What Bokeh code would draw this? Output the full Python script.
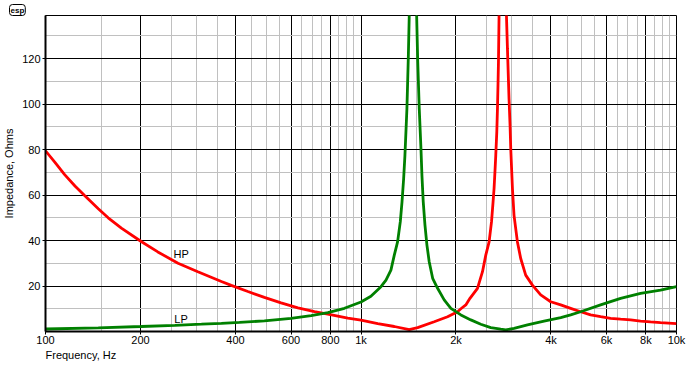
from bokeh.plotting import figure
from bokeh.models import FixedTicker, Range1d, Title
from bokeh.embed import file_html
from bokeh.resources import INLINE
from bokeh.core.properties import value

# HP (red) impedance curve, Hz / Ohms
hp_freq = [100, 107, 115, 124, 133, 147, 158, 174, 201, 227, 263, 304, 361, 388,
           438, 494, 558, 631, 712, 785, 908, 1000, 1130, 1275, 1422, 1512, 1706,
           1881, 2023, 2073, 2149, 2215, 2340, 2427, 2486, 2547, 2592, 2622, 2641,
           2661, 2674, 2694, 2707, 2719, 2727, 2739, 2815, 2891, 2912, 2946, 2968,
           2983, 3020, 3055, 3132, 3208, 3327, 3494, 3712, 3993, 4296, 4619, 4968,
           5343, 5747, 6182, 6650, 7152, 7693, 8275, 8900, 10000]
hp_ohms = [79.5, 74.5, 69.0, 64.0, 59.8, 54.0, 50.0, 45.5, 39.6, 35.0, 30.0, 26.3,
           22.0, 20.3, 17.6, 15.0, 12.6, 10.4, 8.7, 7.6, 5.9, 5.0, 3.5, 2.2, 0.8,
           1.7, 4.3, 6.5, 8.7, 10.0, 11.7, 14.6, 19.0, 26.3, 33.6, 39.4, 48.2, 57.0,
           62.9, 71.6, 77.5, 87.7, 97.9, 109.6, 118.4, 138.9, 600, 138.9, 124.3,
           102.3, 90.6, 80.4, 62.9, 51.1, 39.4, 32.1, 24.8, 20.4, 16.1, 13.1, 11.7,
           10.2, 8.7, 7.3, 6.5, 5.8, 5.4, 5.1, 4.6, 4.2, 3.9, 3.5]

# LP (green) impedance curve, Hz / Ohms
lp_freq = [100, 147, 201, 257, 312, 361, 412, 494, 600, 695, 785, 886, 1000, 1075,
           1157, 1200, 1244, 1275, 1306, 1332, 1349, 1365, 1378, 1388, 1398, 1412,
           1422, 1460, 1501, 1512, 1530, 1549, 1560, 1575, 1595, 1618, 1645, 1687,
           1749, 1835, 1927, 2073, 2229, 2397, 2578, 2773, 2876, 3055, 3370, 3803,
           4296, 4619, 4968, 5747, 6650, 7693, 8900, 10000]
lp_ohms = [1.1, 1.6, 2.2, 2.7, 3.2, 3.6, 4.0, 4.7, 5.8, 7.0, 8.3, 10.2, 13.0, 15.5,
           19.7, 22.6, 27.0, 33.6, 39.4, 48.2, 57.0, 67.2, 77.5, 87.7, 97.9, 119.9,
           138.9, 600, 138.9, 119.9, 97.9, 80.4, 68.7, 57.0, 46.8, 38.0, 30.7, 23.4,
           19.0, 13.9, 10.2, 7.3, 5.1, 3.2, 1.7, 1.0, 0.7, 1.4, 2.9, 4.6, 6.1, 7.3,
           8.7, 11.7, 14.6, 16.8, 18.2, 19.7]

# curve labels
label_text = ["HP", "LP"]
label_freq = [269, 269]
label_ohms = [34.3, 5.5]

# axes ticks
x_major = [100, 200, 400, 600, 800, 1000, 2000, 4000, 6000, 8000, 10000]
x_labels = ["100", "200", "400", "600", "800", "1k", "2k", "4k", "6k", "8k", "10k"]
x_minor = [150, 250, 300, 350, 450, 500, 550, 650, 700, 750, 850, 900, 950,
           1500, 2500, 3000, 3500, 4500, 5000, 5500, 6500, 7000, 7500, 8500, 9000, 9500]
y_major = [20, 40, 60, 80, 100, 120]
y_minor = [10, 30, 50, 70, 90, 110, 130]

FONT = "Liberation Sans"

p = figure(x_axis_type="log", x_range=Range1d(100, 10000), y_range=Range1d(0, 139),
           width=700, height=370,
           min_border_left=44, min_border_right=24, min_border_top=15, min_border_bottom=39,
           output_backend="svg", toolbar_location=None,
           background_fill_color="white", border_fill_color="white")

p.outline_line_color = "black"
p.outline_line_width = 1

p.xaxis.ticker = FixedTicker(ticks=x_major, minor_ticks=x_minor)
p.yaxis.ticker = FixedTicker(ticks=y_major, minor_ticks=y_minor)
p.xaxis.major_label_overrides = {t: l for t, l in zip(x_major, x_labels)}

for ax in (p.xaxis[0], p.yaxis[0]):
    ax.axis_line_color = "black"
    ax.axis_line_width = 2
    ax.major_tick_line_color = "black"
    ax.major_tick_out = 3
    ax.major_tick_in = 0
    ax.minor_tick_line_color = None
    ax.major_label_text_font = FONT
    ax.major_label_text_font_size = "11px"
    ax.major_label_text_color = "black"
    ax.major_label_standoff = 1
p.xaxis.major_label_standoff = -2

p.yaxis.axis_label = "Impedance, Ohms"
p.yaxis.axis_label_text_font = FONT
p.yaxis.axis_label_text_font_size = "11px"
p.yaxis.axis_label_text_font_style = "normal"
p.yaxis.axis_label_text_color = "black"
p.yaxis.axis_label_standoff = 4

for g in (p.xgrid[0], p.ygrid[0]):
    g.grid_line_color = "black"
    g.grid_line_width = 1
    g.grid_line_alpha = 1
    g.minor_grid_line_color = "#c0c0c0"
    g.minor_grid_line_width = 1

p.add_layout(Title(text="Frequency, Hz", align="left", vertical_align="top",
                   text_font=FONT, text_font_size="11px", text_font_style="normal",
                   text_color="black", offset=0, standoff=0), "below")

p.add_layout(Title(text="esp", align="left", offset=-36, text_font=FONT,
                   text_font_size="8px", text_font_style="bold",
                   text_color="black", standoff=0, padding=1,
                   border_line_color="black", border_radius=3,
                   background_fill_color="white"), "above")

p.line(hp_freq, hp_ohms, line_color="#ff0000", line_width=2.8)
p.line(lp_freq, lp_ohms, line_color="#008000", line_width=2.8)

p.text(x=label_freq, y=label_ohms, text=label_text, text_font=value(FONT),
       text_font_size="11px", text_color="black", text_align="center",
       text_baseline="middle")

open("out.html", "w").write(file_html(p, INLINE))
